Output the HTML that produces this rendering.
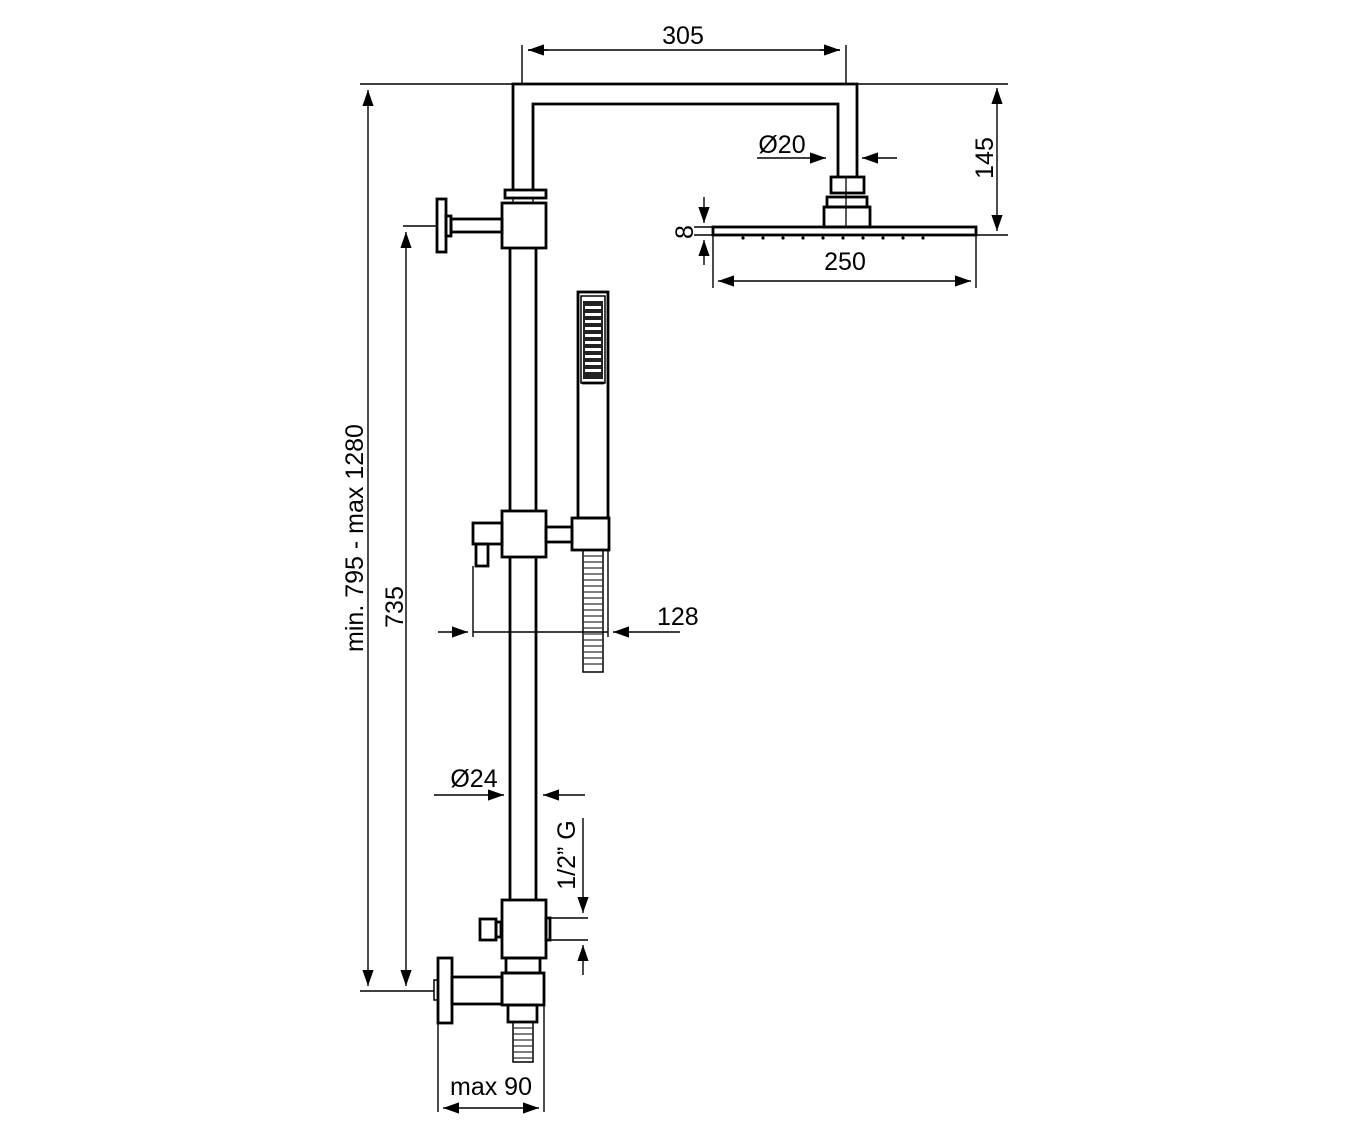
<!DOCTYPE html>
<html><head><meta charset="utf-8"><style>html,body{margin:0;padding:0;background:#fff}svg{display:block}</style></head>
<body>
<svg width="1346" height="1134" viewBox="0 0 1346 1134" xmlns="http://www.w3.org/2000/svg" font-family="Liberation Sans, Arial, sans-serif" font-size="25" fill="none" stroke="#000">
<defs>
<marker id="a" viewBox="0 0 10 10" refX="10" refY="5" markerWidth="16" markerHeight="16" markerUnits="userSpaceOnUse" orient="auto"><path d="M0,1.5 L10,5 L0,8.5 Z" fill="#000" stroke="none"/></marker>
</defs>
<g stroke-width="1.4">
<line x1="360" y1="84" x2="1008" y2="84"/>
<line x1="976" y1="235" x2="1008" y2="235"/>
<line x1="522" y1="45" x2="522" y2="84"/>
<line x1="846" y1="45" x2="846" y2="84"/>
<line x1="403" y1="226" x2="437" y2="226"/>
<line x1="360" y1="991" x2="434" y2="991"/>
<line x1="713" y1="235" x2="713" y2="288"/>
<line x1="976" y1="235" x2="976" y2="288"/>
<line x1="473" y1="566" x2="473" y2="637"/>
<line x1="608" y1="550" x2="608" y2="637"/>
<line x1="438" y1="1023" x2="438" y2="1112"/>
<line x1="544" y1="1005" x2="544" y2="1112"/>
<line x1="694" y1="227" x2="713" y2="227"/>
<line x1="694" y1="235" x2="713" y2="235"/>
<line x1="546" y1="918" x2="588" y2="918"/>
<line x1="546" y1="940" x2="588" y2="940"/>
<line x1="548" y1="50" x2="528" y2="50" marker-end="url(#a)"/>
<line x1="820" y1="50" x2="840" y2="50" marker-end="url(#a)"/>
<line x1="528" y1="50" x2="840" y2="50"/>
<line x1="368" y1="500" x2="368" y2="90" marker-end="url(#a)"/>
<line x1="368" y1="500" x2="368" y2="986" marker-end="url(#a)"/>
<line x1="406" y1="500" x2="406" y2="232" marker-end="url(#a)"/>
<line x1="406" y1="500" x2="406" y2="986" marker-end="url(#a)"/>
<line x1="997" y1="150" x2="997" y2="88" marker-end="url(#a)"/>
<line x1="997" y1="150" x2="997" y2="231" marker-end="url(#a)"/>
<line x1="757" y1="158" x2="826" y2="158" marker-end="url(#a)"/>
<line x1="897" y1="158" x2="862" y2="158" marker-end="url(#a)"/>
<line x1="704" y1="197" x2="704" y2="223" marker-end="url(#a)"/>
<line x1="704" y1="265" x2="704" y2="240" marker-end="url(#a)"/>
<line x1="845" y1="281" x2="718" y2="281" marker-end="url(#a)"/>
<line x1="845" y1="281" x2="971" y2="281" marker-end="url(#a)"/>
<line x1="438" y1="632" x2="468" y2="632" marker-end="url(#a)"/>
<line x1="473" y1="632" x2="608" y2="632"/>
<line x1="680" y1="632" x2="613" y2="632" marker-end="url(#a)"/>
<line x1="434" y1="795" x2="504" y2="795" marker-end="url(#a)"/>
<line x1="585" y1="795" x2="543" y2="795" marker-end="url(#a)"/>
<line x1="583" y1="818" x2="583" y2="913" marker-end="url(#a)"/>
<line x1="583" y1="975" x2="583" y2="945" marker-end="url(#a)"/>
<line x1="491" y1="1108" x2="443" y2="1108" marker-end="url(#a)"/>
<line x1="491" y1="1108" x2="539" y2="1108" marker-end="url(#a)"/>
</g>
<g stroke-width="2.8">
<path d="M513,190 V84 H857 V177"/>
<path d="M533,190 V104 H838 V177"/>
<rect x="505" y="190" width="41" height="8"/>
<rect x="502" y="203" width="44" height="45"/>
<line x1="513" y1="198" x2="513" y2="203" stroke-width="1.3"/>
<line x1="533" y1="198" x2="533" y2="203" stroke-width="1.3"/>
<rect x="437" y="199" width="9" height="53"/>
<rect x="446" y="216" width="5" height="20"/>
<rect x="451" y="219" width="51" height="13"/>
<line x1="510" y1="248" x2="510" y2="511"/>
<line x1="536" y1="248" x2="536" y2="511"/>
<line x1="510" y1="557" x2="510" y2="900"/>
<line x1="536" y1="557" x2="536" y2="900"/>
<rect x="502" y="511" width="44" height="46"/>
<rect x="473" y="523" width="29" height="21"/>
<rect x="476" y="544" width="12" height="22"/>
<rect x="546" y="527" width="26" height="15"/>
<rect x="572" y="518" width="37" height="32"/>
<rect x="578" y="292" width="30" height="226"/>
<rect x="581" y="296" width="24" height="87" stroke-width="1.5"/>
<line x1="582" y1="383" x2="604" y2="383"/>
<rect x="583" y="550" width="20" height="122" stroke-width="1.5"/>
<rect x="831" y="177" width="33" height="16"/>
<rect x="827" y="197" width="40" height="10"/>
<rect x="824" y="207" width="46" height="20"/>
<line x1="846" y1="177" x2="846" y2="227" stroke-width="1.3"/>
<rect x="713" y="227" width="263" height="8"/>
<rect x="502" y="900" width="44" height="58"/>
<rect x="480" y="919" width="16" height="21"/>
<rect x="496" y="922" width="5" height="15"/>
<rect x="546" y="918" width="4" height="22"/>
<rect x="506" y="958" width="34" height="15"/>
<rect x="502" y="973" width="42" height="32"/>
<rect x="452" y="977" width="50" height="27"/>
<rect x="438" y="958" width="14" height="65"/>
<rect x="434" y="980" width="4" height="20" stroke-width="1.5"/>
<rect x="508" y="1005" width="29" height="17"/>
<rect x="513" y="1022" width="20" height="40" stroke-width="1.5"/>
</g>
<rect x="583" y="301" width="20" height="78" fill="#222" stroke="none"/>
<g fill="#fff" stroke="none">
<rect x="585" y="306" width="16" height="3"/><rect x="585" y="313" width="16" height="3"/><rect x="585" y="320" width="16" height="3"/><rect x="585" y="327" width="16" height="3"/><rect x="585" y="334" width="16" height="3"/><rect x="585" y="341" width="16" height="3"/><rect x="585" y="348" width="16" height="3"/><rect x="585" y="355" width="16" height="3"/><rect x="585" y="362" width="16" height="3"/><rect x="585" y="369" width="16" height="3"/>
</g>
<g stroke-width="1.2" stroke="#333">
<path d="M583,556H603M583,562H603M583,568H603M583,574H603M583,580H603M583,586H603M583,592H603M583,598H603M583,604H603M583,610H603M583,616H603M583,622H603M583,628H603M583,634H603M583,640H603M583,646H603M583,652H603M583,658H603M583,664H603"/>
<path d="M513,1028H533M513,1034H533M513,1040H533M513,1046H533M513,1052H533M513,1058H533"/>
</g>
<g fill="#000" stroke="none">
<circle cx="743" cy="238" r="1.6"/><circle cx="763" cy="238" r="1.6"/><circle cx="783" cy="238" r="1.6"/><circle cx="803" cy="238" r="1.6"/><circle cx="823" cy="238" r="1.6"/><circle cx="843" cy="238" r="1.6"/><circle cx="863" cy="238" r="1.6"/><circle cx="883" cy="238" r="1.6"/><circle cx="903" cy="238" r="1.6"/><circle cx="923" cy="238" r="1.6"/>
</g>
<g fill="#000" stroke="none">
<text x="683" y="44" text-anchor="middle">305</text>
<text x="782" y="153" text-anchor="middle">Ø20</text>
<text x="845" y="270" text-anchor="middle">250</text>
<text x="657" y="625">128</text>
<text x="474" y="787" text-anchor="middle">Ø24</text>
<text x="491" y="1095" text-anchor="middle">max 90</text>
<text transform="translate(993,158) rotate(-90)" text-anchor="middle">145</text>
<text transform="translate(693,232) rotate(-90)" text-anchor="middle">8</text>
<text transform="translate(363,538) rotate(-90)" text-anchor="middle">min. 795 - max 1280</text>
<text transform="translate(403,607) rotate(-90)" text-anchor="middle">735</text>
<text transform="translate(575,855) rotate(-90)" text-anchor="middle">1/2” G</text>
</g>
</svg>
</body></html>
